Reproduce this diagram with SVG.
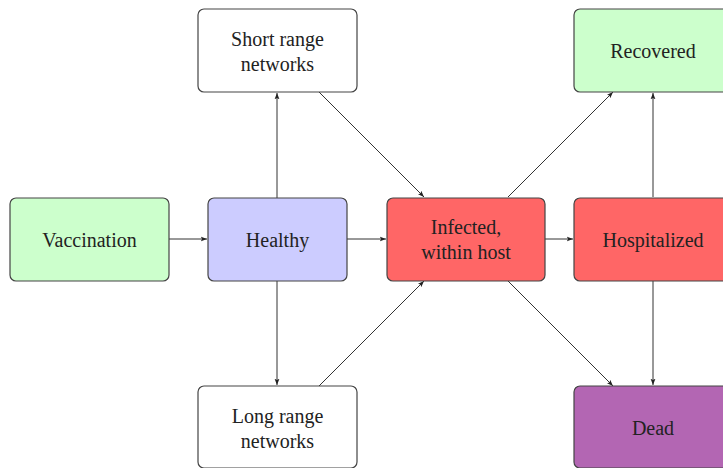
<svg xmlns="http://www.w3.org/2000/svg" width="723" height="468" viewBox="0 0 723 468">
<defs>
<marker id="ah" viewBox="0 0 10 10" refX="9" refY="5" markerWidth="7" markerHeight="7" orient="auto" markerUnits="userSpaceOnUse">
<path d="M0,1.5 L9,5 L0,8.5 L2,5 Z" fill="#222"/>
</marker>
<style>
.box{stroke:#444;stroke-width:1.2}
.t{font-family:"Liberation Serif","Times New Roman",serif;font-size:20px;fill:#222;text-anchor:middle;dominant-baseline:central}
.e{stroke:#333;stroke-width:1;fill:none;marker-end:url(#ah)}
</style>
</defs>
<rect width="723" height="468" fill="#fff"/>
<g id="connectors">
<line class="e" x1="169" y1="239" x2="207" y2="239"/>
<line class="e" x1="347" y1="239" x2="386" y2="239"/>
<line class="e" x1="545" y1="239" x2="573" y2="239"/>
<line class="e" x1="277" y1="198" x2="277" y2="93"/>
<line class="e" x1="277" y1="281" x2="277" y2="385"/>
<line class="e" x1="319" y1="92" x2="424" y2="197"/>
<line class="e" x1="319" y1="386" x2="424" y2="281"/>
<line class="e" x1="508" y1="197" x2="613" y2="92"/>
<line class="e" x1="508" y1="281" x2="613" y2="386"/>
<line class="e" x1="653" y1="197" x2="653" y2="93"/>
<line class="e" x1="653" y1="281" x2="653" y2="385"/>
</g>
<g id="vaccination">
<rect class="box" x="10" y="198" width="159" height="83" rx="6" fill="#ccffcc"/>
<text class="t" x="89.5" y="239.5">Vaccination</text>
</g>
<g id="healthy">
<rect class="box" x="208" y="198" width="139" height="83" rx="6" fill="#ccccff"/>
<text class="t" x="277.5" y="239.5">Healthy</text>
</g>
<g id="infected">
<rect class="box" x="387" y="198" width="158" height="83" rx="6" fill="#ff6666"/>
<text class="t" x="466" y="227">Infected,</text>
<text class="t" x="466" y="252">within host</text>
</g>
<g id="hospitalized">
<rect class="box" x="574" y="198" width="158" height="83" rx="6" fill="#ff6666"/>
<text class="t" x="653" y="239.5">Hospitalized</text>
</g>
<g id="short-range">
<rect class="box" x="198" y="9" width="159" height="83" rx="6" fill="#fff"/>
<text class="t" x="277.5" y="38.5">Short range</text>
<text class="t" x="277.5" y="63.5">networks</text>
</g>
<g id="long-range">
<rect class="box" x="198" y="386" width="159" height="82" rx="6" fill="#fff"/>
<text class="t" x="277.5" y="415.5">Long range</text>
<text class="t" x="277.5" y="440.5">networks</text>
</g>
<g id="recovered">
<rect class="box" x="574" y="9" width="158" height="83" rx="6" fill="#ccffcc"/>
<text class="t" x="653" y="50.5">Recovered</text>
</g>
<g id="dead">
<rect class="box" x="574" y="386" width="158" height="82" rx="6" fill="#b366b3"/>
<text class="t" x="653" y="428">Dead</text>
</g>
</svg>
